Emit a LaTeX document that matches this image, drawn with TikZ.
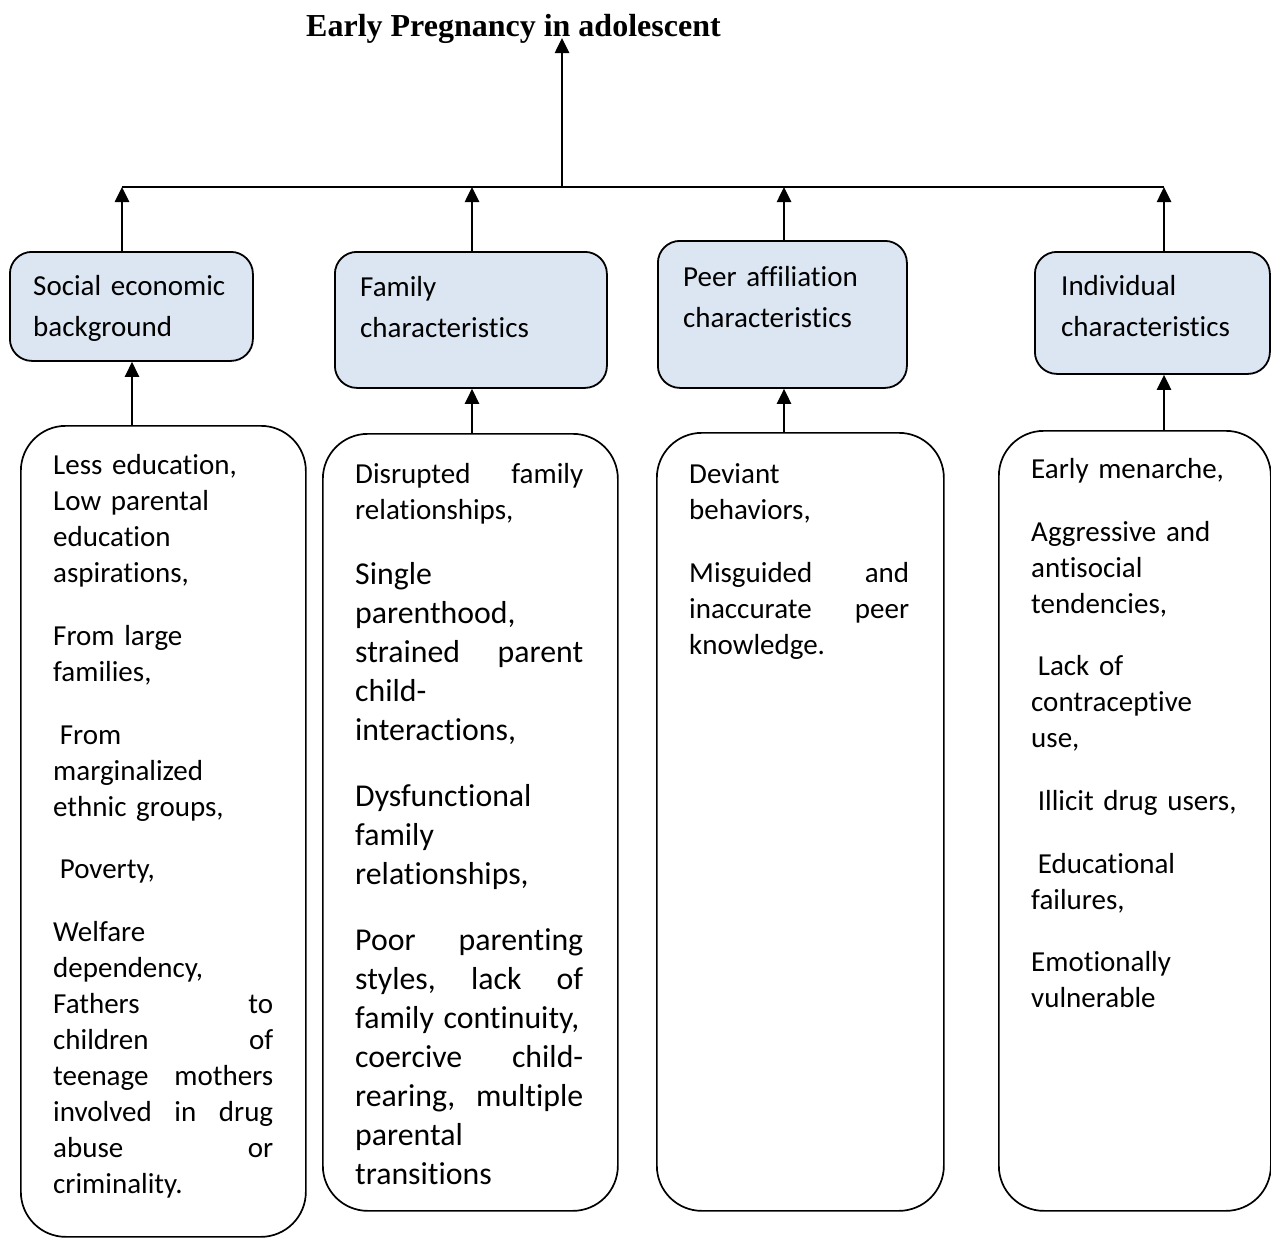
\documentclass[tikz,border=0pt]{standalone}
\usepackage{fontspec}
\setmainfont{Carlito}[Ligatures=NoCommon]
\newfontfamily\titlefont{Liberation Serif}
\usetikzlibrary{arrows.meta}
\definecolor{boxblue}{RGB}{220,230,242}
\newcommand{\jl}[1]{\makebox[\hsize][s]{#1}}
\begin{document}
\begin{tikzpicture}[x=1pt,y=-1pt,
  topbox/.style={draw, line width=1.8pt, rounded corners=22pt, fill=boxblue, anchor=north west, inner sep=0pt},
  botbox/.style={draw, line width=1.7pt, rounded corners=45pt, anchor=north west, inner sep=0pt},
  toptext/.style={anchor=north west, inner sep=0pt, align=left, text width=235pt, font=\fontsize{29}{41}\selectfont},
  bottext/.style={anchor=north west, inner sep=0pt, align=left, text width=#1, font=\fontsize{29}{36}\selectfont, execute at begin node={\setlength{\parskip}{0pt}}},
  arr/.style={line width=2.6pt, -{Triangle[length=15pt,width=14pt]}},
  hline/.style={line width=1.8pt}
]
\useasboundingbox (0,0) rectangle (1271,1237);

% title
\node[anchor=base west, inner sep=0pt, font=\titlefont\bfseries\fontsize{32}{38}\selectfont] (title) at (306,36) {Early Pregnancy in adolescent};

% top boxes
\node[topbox, minimum width=243pt, minimum height=109pt] (T1) at (9,251) {};
\node[topbox, minimum width=272pt, minimum height=136pt] (T2) at (334,251) {};
\node[topbox, minimum width=249pt, minimum height=147pt] (T3) at (657,240) {};
\node[topbox, minimum width=235pt, minimum height=122pt] (T4) at (1034,251) {};

\node[toptext] (t1) at (33,266.3) {\strut Social economic\\ background};
\node[toptext] (t2) at (360,267.3) {\strut Family\\ characteristics};
\node[toptext] (t3) at (683,257.3) {\strut Peer affiliation\\ characteristics};
\node[toptext] (t4) at (1061,266.3) {\strut Individual\\ characteristics};

% bottom boxes
\node[botbox, minimum width=285pt, minimum height=811pt] (B1) at (20,425) {};
\node[botbox, minimum width=295pt, minimum height=777pt] (B2) at (322,433) {};
\node[botbox, minimum width=287pt, minimum height=778pt] (B3) at (656,432) {};
\node[botbox, minimum width=272pt, minimum height=780pt] (B4) at (998,430) {};

\node[bottext=220pt] (b1) at (53,448.8) {\strut Less education,\\
Low parental\\
education\\
aspirations,\\[27pt]
From large\\
families,\\[27pt]
\hspace*{0.23em}From\\
marginalized\\
ethnic groups,\\[26pt]
\hspace*{0.23em}Poverty,\\[27pt]
Welfare\\
dependency,\\
\jl{Fathers\hfill to}\\
\jl{children\hfill of}\\
\jl{teenage\hfill mothers}\\
\jl{involved\hfill in\hfill drug}\\
\jl{abuse\hfill or}\\
criminality.};

\node[bottext=228pt] (b2) at (355,457.8) {{\fontsize{29}{36}\selectfont\strut\jl{Disrupted\hfill family}\\
relationships,\par}
\vspace{26pt}
{\fontsize{31.8}{39}\selectfont
Single\\
parenthood,\\
\jl{strained\hfill parent}\\
child-\\
interactions,\\[27pt]
Dysfunctional\\
family\\
relationships,\\[27pt]
\jl{Poor\hfill parenting}\\
\jl{styles,\hfill lack\hfill of}\\
family continuity,\\
\jl{coercive\hfill child-}\\
\jl{rearing,\hfill multiple}\\
parental\\
transitions\par}};

\node[bottext=220pt] (b3) at (689,457.8) {\strut Deviant\\
behaviors,\\[27pt]
\jl{Misguided\hfill and}\\
\jl{inaccurate\hfill peer}\\
knowledge.};

\node[bottext=220pt] (b4) at (1031,452.8) {\strut Early menarche,\\[27pt]
Aggressive and\\
antisocial\\
tendencies,\\[26pt]
\hspace*{0.23em}Lack of\\
contraceptive\\
use,\\[27pt]
\hspace*{0.23em}Illicit drug users,\\[27pt]
\hspace*{0.23em}Educational\\
failures,\\[26pt]
Emotionally\\
vulnerable};

% connector coordinates
\coordinate (h1) at (122,187);
\coordinate (h2) at (472,187);
\coordinate (h3) at (784,187);
\coordinate (h4) at (1164,187);
\coordinate (hm) at (562,187);
\coordinate (tip) at (562,38);
\coordinate (x1) at (132,0);
\coordinate (x2) at (472,0);
\coordinate (x3) at (784,0);
\coordinate (x4) at (1164,0);

\draw[hline] (h1) -- (h4);
\draw[arr] (hm) -- (tip);
\draw[arr] (T1.north -| h1) -- (h1);
\draw[arr] (T2.north -| h2) -- (h2);
\draw[arr] (T3.north -| h3) -- (h3);
\draw[arr] (T4.north -| h4) -- (h4);

\draw[arr] (B1.north -| x1) -- (T1.south -| x1);
\draw[arr] (B2.north -| x2) -- (T2.south -| x2);
\draw[arr] (B3.north -| x3) -- (T3.south -| x3);
\draw[arr] (B4.north -| x4) -- (T4.south -| x4);
\end{tikzpicture}
\end{document}
